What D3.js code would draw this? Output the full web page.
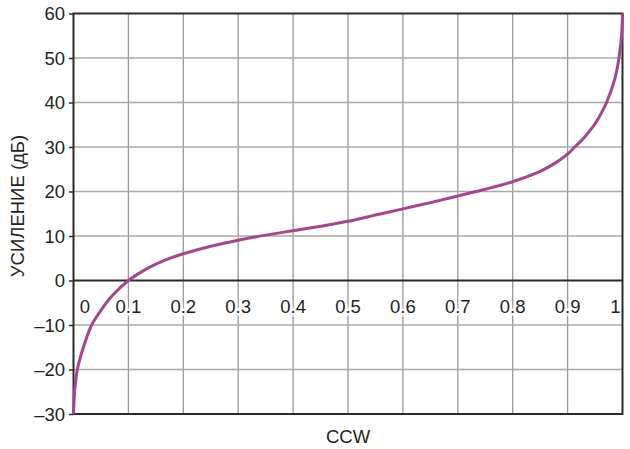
<!DOCTYPE html>
<html><head><meta charset="utf-8">
<script src="https://cdn.jsdelivr.net/npm/d3@7"></script>
<style>body{margin:0;background:#fff}svg{display:block}text{font-family:"Liberation Sans",Arial,sans-serif;fill:#231f20}</style>
</head><body><svg id="c" width="630" height="449"></svg>
<script>
const xValues = [0, 0.002, 0.007, 0.018, 0.033, 0.05, 0.07, 0.1, 0.13, 0.15, 0.18, 0.2, 0.25, 0.3, 0.35, 0.4, 0.45, 0.5, 0.55, 0.6, 0.65, 0.7, 0.75, 0.8, 0.85, 0.88, 0.9, 0.913, 0.93, 0.94, 0.95, 0.96, 0.971, 0.986, 0.9936, 0.9985, 1.0];
const gainValues = [-30, -25, -20, -15, -10, -6.7, -3.5, 0, 2.4, 3.7, 5.2, 6.0, 7.7, 9.05, 10.2, 11.2, 12.2, 13.3, 14.7, 16.1, 17.5, 19.0, 20.5, 22.2, 24.5, 26.6, 28.4, 30, 32.1, 33.6, 35.2, 37.3, 40, 45.3, 50, 55.4, 60];
const xTicks = [0, 0.1, 0.2, 0.3, 0.4, 0.5, 0.6, 0.7, 0.8, 0.9, 1];
const xTickLabels = ["0", "0.1", "0.2", "0.3", "0.4", "0.5", "0.6", "0.7", "0.8", "0.9", "1"];
const yTicks = [60, 50, 40, 30, 20, 10, 0, -10, -20, -30];
const yTickLabels = ["60", "50", "40", "30", "20", "10", "0", "\u201310", "\u201320", "\u201330"];
const xTitle = "CCW";
const yTitle = "УСИЛЕНИЕ (дБ)";

const svg = d3.select("#c");
const L = 73.5, R = 622.5, T = 13.5, B = 414;
const x = d3.scaleLinear().domain([0, 1]).range([L, R]);
const y = d3.scaleLinear().domain([-30, 60]).range([B, T]);

// grid
svg.append("g").selectAll("line").data(xTicks.slice(1, -1)).join("line")
  .attr("x1", d => x(d)).attr("x2", d => x(d)).attr("y1", T).attr("y2", B)
  .attr("stroke", "#999").attr("stroke-width", 1.3);
svg.append("g").selectAll("line").data(yTicks.filter(d => d !== 60 && d !== -30 && d !== 0)).join("line")
  .attr("x1", L).attr("x2", R).attr("y1", d => y(d)).attr("y2", d => y(d))
  .attr("stroke", "#aaa").attr("stroke-width", 1.3);

// x tick labels (on zero line) with white halo
svg.append("g").selectAll("text").data(xTicks).join("text")
  .attr("x", (d, i) => i === 0 ? x(d) + 11.5 : (i === xTicks.length - 1 ? x(d) - 7 : x(d)))
  .attr("y", 313).attr("text-anchor", "middle").attr("font-size", 18.5)
  .attr("stroke", "#fff").attr("stroke-width", 5).attr("paint-order", "stroke")
  .text((d, i) => xTickLabels[i]);

// zero line
svg.append("line").attr("x1", L).attr("x2", R).attr("y1", y(0)).attr("y2", y(0))
  .attr("stroke", "#2b2b2b").attr("stroke-width", 2);

// frame
svg.append("rect").attr("x", L).attr("y", T).attr("width", R - L).attr("height", B - T)
  .attr("fill", "none").attr("stroke", "#2b2b2b").attr("stroke-width", 2);

// y axis ticks & labels
const yAxis = d3.axisLeft(y).tickValues(yTicks).tickSize(4).tickPadding(4)
  .tickFormat((d, i) => yTickLabels[i]);
const gy = svg.append("g").attr("transform", `translate(${L - 0.5},0)`).call(yAxis);
gy.select(".domain").remove();
gy.selectAll(".tick line").attr("stroke", "#2b2b2b").attr("stroke-width", 1.5);
gy.selectAll(".tick text").attr("font-size", 18.5).attr("fill", "#231f20")
  .attr("font-family", "Liberation Sans, Arial, sans-serif").attr("dy", "0.35em");

// curve
const line = d3.line().x(d => x(d[0])).y(d => y(d[1])).curve(d3.curveCatmullRom.alpha(0.5));
svg.append("path").datum(xValues.map((v, i) => [v, gainValues[i]]))
  .attr("d", line).attr("fill", "none").attr("stroke", "#a3478c").attr("stroke-width", 3);

// titles
svg.append("text").attr("x", 348).attr("y", 443).attr("text-anchor", "middle")
  .attr("font-size", 18.5).text(xTitle);
svg.append("text").attr("transform", "translate(24,206) rotate(-90)").attr("text-anchor", "middle")
  .attr("font-size", 18.5).text(yTitle);
</script></body></html>
